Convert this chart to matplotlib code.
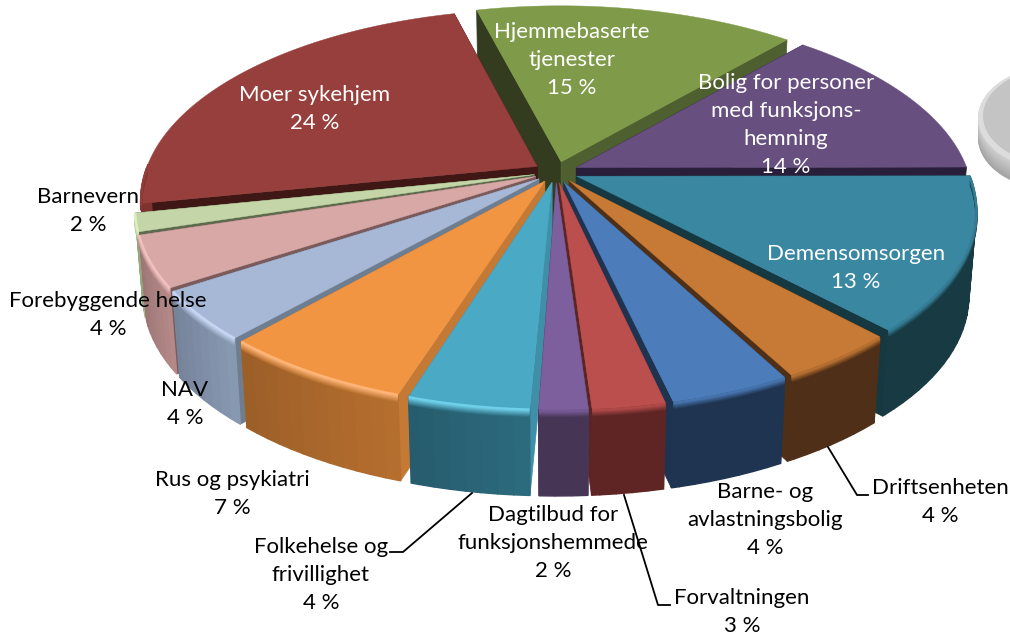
import numpy as np
import matplotlib
matplotlib.use("Agg")
import matplotlib.pyplot as plt
from matplotlib.patches import Ellipse

plt.rcParams['font.family'] = ['Lato', 'DejaVu Sans']

# data, clockwise from the green slice
names = ["Hjemmebaserte\ntjenester", "Bolig for personer\nmed funksjons-\nhemning", "Demensomsorgen",
         "Driftsenheten", "Barne- og\navlastningsbolig", "Forvaltningen",
         "Dagtilbud for\nfunksjonshemmede", "Folkehelse og\nfrivillighet", "Rus og psykiatri",
         "NAV", "Forebyggende helse", "Barnevern", "Moer sykehjem"]
percent = [15, 14, 13, 4, 4, 3, 2, 4, 7, 4, 4, 2, 24]
# slice sizes, the labels above are rounded
shares = [15.5, 13.5, 13, 4.2, 4.25, 2.5, 1.8, 4.25, 6.7, 4.2, 4.4, 1.6, 24.1]

top_col = ["#7f9a48", "#674f80", "#3a87a2", "#c67a35", "#4c7dba", "#bb4f4d", "#7e5f9e",
           "#4aa9c4", "#f29543", "#a7b8d6", "#d8a8a7", "#c4d5a8", "#973f3c"]
wall_col = ["#4f6030", "#2a1f3b", "#173a43", "#4f2f17", "#1f3450", "#5f2525", "#463555",
            "#2d6c80", "#b8702f", "#8a9bb5", "#b78b8a", "#a8c08c", "#7d3330"]
cut_col = ["#333c1f", "#2a1f3b", "#163840", "#4f2f16", "#1e3350", "#5d2424", "#463555",
           "#3f8fa8", "#c47a35", "#6e7d90", "#7a5a5a", "#5d6b4c", "#3f1715"]
cut_col2 = ["#4f6030", "#2a1f3b", "#163840", "#4f2f16", "#1e3350", "#5d2424", "#463555",
            "#3f8fa8", "#c47a35", "#6e7d90", "#7a5a5a", "#5d6b4c", "#3f1715"]
shine = [None, None, None, None, None, None, None, "#6fd0ea", "#ffb577", "#c6d6f2", "#f0c0bf", "#dcefc0", None]

label_xy = [(572, 60), (786, 125), (856, 268), (940, 502), (765, 520), (742, 612), (553, 543),
            (321, 575), (232, 494), (185, 404), (108, 315), (88, 211), (315, 109)]
label_col = ["white", "white", "white", "black", "black", "black", "black",
             "black", "black", "black", "black", "black", "white"]

leaders = [([828, 857, 868], [447, 495, 495]),
           ([624, 658, 670], [495, 605, 605]),
           ([472, 403, 390], [493, 552, 552])]

# pie projection in pixels
cx, cy = 556, 172
A, B, k = 392, 185.3, 0.1675
depth = 86
expl = 0.057
start = -14.5


def project(X, Y, low=False):
    w = 1 + k*Y
    x = cx + A*X/w
    y = cy - B*Y/w
    if low:
        x = cx + (x-cx)*0.982
        y = y + depth
    return x, y


def lerp(c1, c2, t):
    a = np.array(matplotlib.colors.to_rgb(c1))
    b = np.array(matplotlib.colors.to_rgb(c2))
    return tuple(a + (b-a)*t)


fig = plt.figure(figsize=(10.1, 6.34), dpi=100)
ax = fig.add_axes([0, 0, 1, 1])
ax.set_xlim(0, 1010)
ax.set_ylim(634, 0)
ax.axis('off')

# grey disc of the next pie, cut by the picture edge
for d in range(20, 0, -1):
    ax.add_patch(Ellipse((1058, 118 + d), 160, 105, color=lerp("#d0d0d0", "#a3a3a3", d/20), lw=0))
ax.add_patch(Ellipse((1058, 118), 160, 105, color="#dcdcdc", lw=0))
ax.add_patch(Ellipse((1060, 116), 154, 98, color="#c4c4c4", lw=0))

edges = start + 3.6*np.cumsum([0] + shares)
mid = (edges[:-1] + edges[1:])/2
order = np.argsort(-np.cos(np.radians(mid)))

for i in order:
    t = np.radians(np.arange(edges[i], edges[i+1] + 0.01, 0.5))
    m = np.radians(mid[i])
    ox, oy = expl*np.sin(m), expl*np.cos(m)
    X = ox + np.sin(t)
    Y = oy + np.cos(t)

    xa, ya = project(ox, oy)
    xa2, ya2 = project(ox, oy, True)
    xt, yt = project(X, Y)
    xb, yb = project(X, Y, True)

    # cut faces
    ax.fill([xa, xt[0], xb[0], xa2], [ya, yt[0], yb[0], ya2], color=cut_col[i], lw=0.5)
    ax.fill([xa, xt[-1], xb[-1], xa2], [ya, yt[-1], yb[-1], ya2], color=cut_col2[i], lw=0.5)

    # outer wall in thin strips, a bit darker to the right
    n = len(t)
    for j in range(0, n-1, 4):
        j2 = min(j+4, n-1)
        if np.cos(t[j]) > 0 and np.cos(t[j2]) > 0:
            continue
        f = j/max(n-1, 1)
        c = lerp(wall_col[i], "black", 0.02 + 0.14*f) if shine[i] else wall_col[i]
        ax.fill([xt[j], xt[j2], xb[j2], xb[j]], [yt[j], yt[j2], yb[j2], yb[j]], color=c, lw=1.0)

    # top face
    ax.fill(np.r_[xa, xt], np.r_[ya, yt], color=top_col[i], lw=0.3)

    # soft edge between top and wall, only on the visible rim
    front = np.cos(t) < 0
    if front.sum() > 1:
        for d in np.arange(7, 0, -1.0):
            if shine[i]:
                c = lerp(shine[i], wall_col[i], d/7)
            else:
                c = lerp(top_col[i], wall_col[i], d/7)
            ax.plot(xt[front], yt[front] + d, color=c, lw=1.6, solid_capstyle='butt')
        if shine[i]:
            ax.plot(xt[front], yt[front], color=shine[i], lw=1.6, solid_capstyle='butt')

for lx, ly in leaders:
    ax.plot(lx, ly, color="black", lw=1.3)

for name, v, (x, y), c in zip(names, percent, label_xy, label_col):
    ax.text(x, y, f"{name}\n{v} %", color=c, fontsize=16, ha='center', va='center',
            multialignment='center', linespacing=1.5)

fig.savefig("out.png", dpi=100)
